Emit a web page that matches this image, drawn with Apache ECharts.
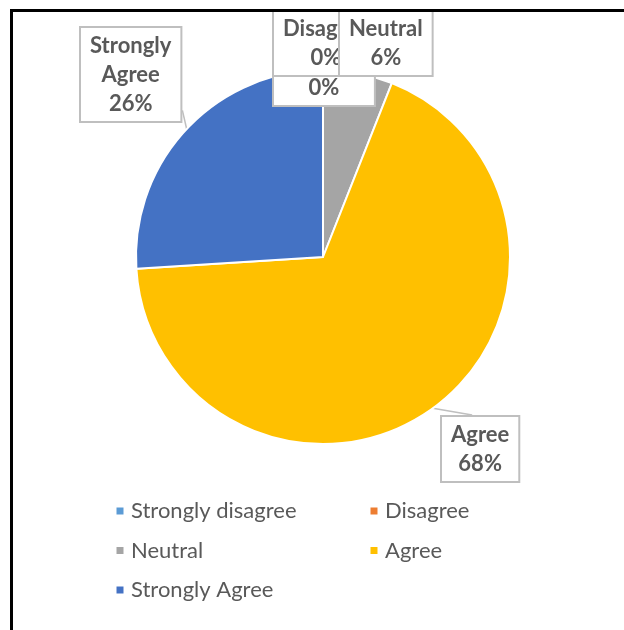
<!DOCTYPE html>
<html><head><meta charset="utf-8">
<script src="https://cdn.jsdelivr.net/npm/echarts@6/dist/echarts.min.js"></script>
<style>
html,body{margin:0;padding:0;background:#fff;overflow:hidden;width:624px;height:630px}
#chart{position:absolute;left:0;top:0;width:624px;height:630px}
#frame{position:absolute;left:10px;top:9px;width:700px;height:700px;border:3px solid #000;box-sizing:border-box;pointer-events:none;z-index:2}
</style></head><body>
<div id="chart"></div><div id="frame"></div>
<script>
const categories = ['Strongly disagree', 'Disagree', 'Neutral', 'Agree', 'Strongly Agree'];
const shares = [0, 0, 6, 68, 26];
const legendColumn1 = ['Strongly disagree', 'Neutral', 'Strongly Agree'];
const legendColumn2 = ['Disagree', 'Agree'];
const palette = ['#5B9BD5', '#ED7D31', '#A5A5A5', '#FFC000', '#4472C4'];

// label box placement (layout only)
const boxAnchors = [
  { left: 272, bottom: 107 },
  { left: 272, bottom: 77 },
  { left: 338, bottom: 77 },
  { left: 440, top: 415, attach: [0.4, 0] },
  { left: 79, top: 26, attach: [1, 0.87] }
];

const chart = echarts.init(document.getElementById('chart'), null, { renderer: 'canvas' });

const data = categories.map((name, i) => ({
  name: name,
  value: shares[i],
  itemStyle: { color: palette[i] },
  labelLine: { show: i > 2 }
}));

const legendCommon = {
  orient: 'vertical',
  top: 495,
  icon: 'path://M0,0h9v9h-9z',
  itemWidth: 12,
  itemHeight: 9,
  itemGap: 17.5,
  selectedMode: false,
  textStyle: { fontFamily: 'Lato', fontSize: 22, color: '#595959', lineHeight: 22 }
};

chart.setOption({
  animation: false,
  backgroundColor: 'transparent',
  legend: [
    Object.assign({}, legendCommon, { left: 109.5, data: legendColumn1 }),
    Object.assign({}, legendCommon, { left: 363.5, data: legendColumn2 })
  ],
  series: [{
    type: 'pie',
    center: [323, 257],
    radius: 187,
    startAngle: 90,
    clockwise: true,
    avoidLabelOverlap: false,
    data: data,
    itemStyle: { borderColor: '#fff', borderWidth: 2 },
    label: {
      show: true,
      position: 'outside',
      formatter: p => p.name.replace(' ', '\n') + '\n' + Math.round(p.percent) + '%',
      fontFamily: 'Lato',
      fontWeight: 'bold',
      fontSize: 22,
      lineHeight: 29,
      color: '#595959',
      align: 'center',
      backgroundColor: '#fff',
      borderColor: '#bfbfbf',
      borderWidth: 2,
      padding: [6, 9, 0, 9]
    },
    labelLine: { show: true, length: 10, length2: 10, lineStyle: { color: '#bfbfbf', width: 1.5 } },
    labelLayout: function (p) {
      const a = boxAnchors[p.dataIndex];
      const w = p.labelRect.width, h = p.labelRect.height;
      const top = a.top !== undefined ? a.top : a.bottom - h;
      const res = { x: a.left + w / 2, y: top + h / 2, align: 'center', verticalAlign: 'middle' };
      if (a.attach && p.labelLinePoints) {
        const end = [a.left + w * a.attach[0], top + h * a.attach[1]];
        res.labelLinePoints = [p.labelLinePoints[0], end, end];
      }
      return res;
    }
  }]
});
</script>
</body></html>
